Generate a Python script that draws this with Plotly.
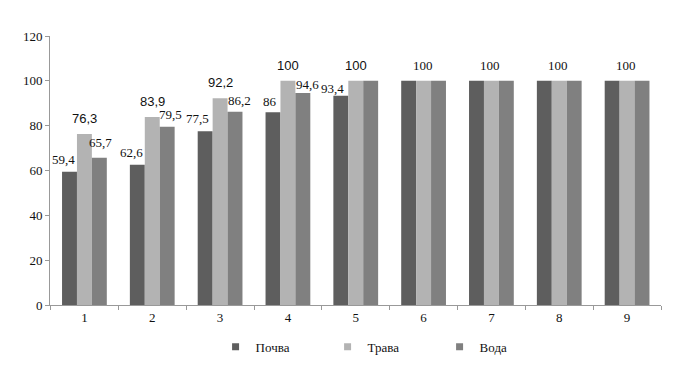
import plotly.graph_objects as go

categories = ["1", "2", "3", "4", "5", "6", "7", "8", "9"]
pochva = [59.4, 62.6, 77.5, 86, 93.4, 100, 100, 100, 100]
trava = [76.3, 83.9, 92.2, 100, 100, 100, 100, 100, 100]
voda = [65.7, 79.5, 86.2, 94.6, 100, 100, 100, 100, 100]

pochva_labels = ["59,4", "62,6", "77,5", "86", "93,4", "", "", "", ""]
trava_labels = ["76,3", "83,9", "92,2", "100", "100", "100", "100", "100", "100"]
voda_labels = ["65,7", "79,5", "86,2", "94,6", "", "", "", "", ""]

names = ["Почва", "Трава", "Вода"]
colors = ["#5e5e5e", "#b3b3b3", "#808080"]

serif = "Liberation Serif, Times New Roman, serif"
sans = "Liberation Sans, Arial, sans-serif"

fig = go.Figure()
for name, vals, col in zip(names, [pochva, trava, voda], colors):
    fig.add_trace(go.Bar(x=categories, y=vals, name=name, marker_color=col,
                         marker_line_width=0, showlegend=False))
# legend entries with small square symbols
for name, col in zip(names, colors):
    fig.add_trace(go.Scatter(x=[None], y=[None], mode="markers", name=name,
                             marker=dict(symbol="square", size=7, color=col)))

bar_w = 0.22
offsets = [-bar_w, 0, bar_w]
# label nudges (pixels)
dx = [[-6, -6, -8, -3, -8, 0, 0, 0, 0],
      [0, 0, 0, 0, 0, -1, -1, -1, -1],
      [1, 3, 4, 5, 0, 0, 0, 0, 0]]
dy = [[3, 3, 3, 1, -2, 0, 0, 0, 0],
      [6, 6, 6, 6, 6, 6, 6, 6, 6],
      [6, 3, 2, -1, 0, 0, 0, 0, 0]]
annotations = []
for s, (vals, labels) in enumerate(zip([pochva, trava, voda],
                                       [pochva_labels, trava_labels, voda_labels])):
    for i, (v, lab) in enumerate(zip(vals, labels)):
        if not lab:
            continue
        fam = sans if (s == 1 and i < 5) else serif
        annotations.append(dict(x=i + offsets[s], y=v, xref="x", yref="y",
                                text=lab, showarrow=False, yanchor="bottom",
                                xshift=dx[s][i], yshift=dy[s][i],
                                font=dict(family=fam, size=13, color="#111111")))

fig.update_layout(
    width=689, height=374,
    margin=dict(l=50, r=28, t=36, b=69),
    paper_bgcolor="white", plot_bgcolor="white",
    barmode="group", bargap=0.34, bargroupgap=0,
    font=dict(family=serif, size=13, color="#111111"),
    annotations=annotations,
    showlegend=True,
    legend=dict(orientation="h", x=0.271, xanchor="left", y=-0.1, yanchor="top",
                xref="paper", entrywidth=67, itemwidth=30,
                font=dict(family=serif, size=13, color="#111111")),
)
fig.update_yaxes(range=[0, 120], dtick=20, showgrid=False, zeroline=False,
                 showline=True, linecolor="#999999", linewidth=1,
                 ticks="outside", ticklen=4, tickcolor="#999999",
                 tickfont=dict(family=serif, size=13, color="#111111"))
fig.update_xaxes(showgrid=False, showline=True, linecolor="#999999", linewidth=1,
                 ticks="outside", ticklen=4, tickcolor="#999999",
                 tickson="boundaries",
                 tickfont=dict(family=serif, size=13, color="#111111"))

fig.write_html("out.html", config={"displayModeBar": False},
               post_script="document.body.style.margin='0px';")
